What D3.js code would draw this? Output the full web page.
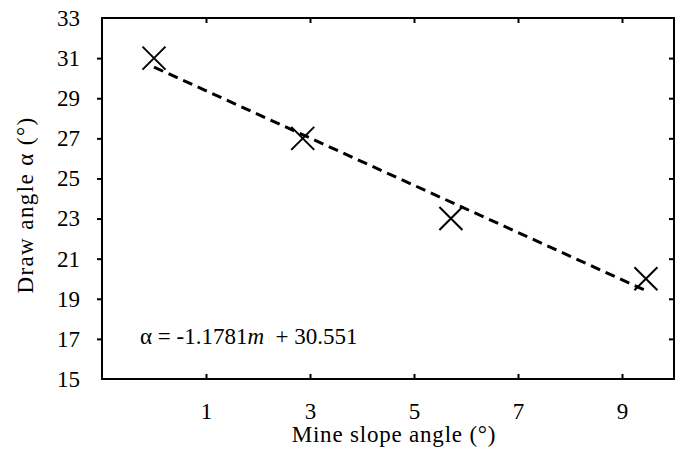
<!DOCTYPE html>
<html>
<head>
<meta charset="utf-8">
<script src="https://cdn.jsdelivr.net/npm/d3@7"></script>
<style>
  body { margin: 0; background: #fff; }
  text { font-family: "Liberation Serif", "Times New Roman", serif; fill: #000; }
</style>
</head>
<body>
<script>
// measured points: mine slope angle vs draw angle
const slopeAngle = [0, 2.86, 5.71, 9.46]
const drawAngle = [31, 27, 23, 20]
const xTicks = [1, 3, 5, 7, 9]
const yTicks = [15, 17, 19, 21, 23, 25, 27, 29, 31, 33]
// linear fit shown on chart
const fitSlope = -1.1781
const fitIntercept = 30.551

const width = 688
const height = 458
const plotLeft = 102, plotRight = 674, plotTop = 18, plotBottom = 379

const xScale = d3.scaleLinear().domain([-1, 10]).range([plotLeft, plotRight])
const yScale = d3.scaleLinear().domain([15, 33]).range([plotBottom, plotTop])

const svg = d3.select('body')
  .append('svg')
  .attr('width', width)
  .attr('height', height)

// left axis, ticks outside
const gy = svg.append('g')
  .attr('transform', 'translate(' + plotLeft + ',0)')
  .call(d3.axisLeft(yScale).tickValues(yTicks).tickSize(5).tickSizeOuter(0).tickPadding(17))
gy.select('.domain').remove()
gy.selectAll('.tick line')
  .attr('stroke-width', 2)
  .attr('opacity', (d) => (d === 15 || d === 33) ? 0 : 1)

// bottom axis, ticks inside
const gx = svg.append('g')
  .attr('transform', 'translate(0,' + plotBottom + ')')
  .call(d3.axisBottom(xScale).tickValues(xTicks).tickSize(-5).tickSizeOuter(0).tickPadding(24))
gx.select('.domain').remove()
gx.selectAll('.tick line').attr('stroke-width', 2)

// mirror ticks on top and right
const gt = svg.append('g')
  .attr('transform', 'translate(0,' + plotTop + ')')
  .call(d3.axisTop(xScale).tickValues(xTicks).tickSize(-5).tickFormat(''))
gt.select('.domain').remove()
gt.selectAll('.tick line').attr('stroke-width', 2)

const gr = svg.append('g')
  .attr('transform', 'translate(' + plotRight + ',0)')
  .call(d3.axisRight(yScale).tickValues(yTicks.slice(1, -1)).tickSize(-5).tickFormat(''))
gr.select('.domain').remove()
gr.selectAll('.tick line').attr('stroke-width', 2)

svg.selectAll('.tick text')
  .attr('font-family', '"Liberation Serif", serif')
  .attr('font-size', '23px')

// frame
svg.append('rect')
  .attr('x', plotLeft)
  .attr('y', plotTop)
  .attr('width', plotRight - plotLeft)
  .attr('height', plotBottom - plotTop)
  .attr('fill', 'none')
  .attr('stroke', '#000')
  .attr('stroke-width', 2)

// trendline over data range
const xMin = d3.min(slopeAngle), xMax = d3.max(slopeAngle)
svg.append('line')
  .attr('x1', xScale(xMin))
  .attr('y1', yScale(fitSlope * xMin + fitIntercept))
  .attr('x2', xScale(xMax))
  .attr('y2', yScale(fitSlope * xMax + fitIntercept))
  .attr('stroke', '#000')
  .attr('stroke-width', 3)
  .attr('stroke-dasharray', '10,6')

// X markers
const pts = slopeAngle.map((d, i) => [d, drawAngle[i]])
const s = 11.5
svg.selectAll('path.marker')
  .data(pts)
  .enter()
  .append('path')
  .attr('class', 'marker')
  .attr('d', (d) => {
    const cx = xScale(d[0]), cy = yScale(d[1])
    return 'M' + (cx - s) + ',' + (cy - s) + 'L' + (cx + s) + ',' + (cy + s) +
      'M' + (cx - s) + ',' + (cy + s) + 'L' + (cx + s) + ',' + (cy - s)
  })
  .attr('stroke', '#000')
  .attr('stroke-width', 2)
  .attr('fill', 'none')

// equation
const eq = svg.append('text')
  .attr('x', 140)
  .attr('y', 344)
  .attr('font-size', '23px')
  .attr('xml:space', 'preserve')
eq.append('tspan').text('α = ' + fitSlope)
eq.append('tspan').attr('font-style', 'italic').text('m')
eq.append('tspan').text('  + ' + fitIntercept)

// axis titles
svg.append('text')
  .attr('x', 394)
  .attr('y', 442)
  .attr('text-anchor', 'middle')
  .attr('font-size', '23px')
  .attr('letter-spacing', '0.8px')
  .text('Mine slope angle  (°)')

svg.append('text')
  .attr('transform', 'translate(33,205) rotate(-90)')
  .attr('text-anchor', 'middle')
  .attr('font-size', '23px')
  .attr('letter-spacing', '1.4px')
  .text('Draw angle  α (°)')
</script>
</body>
</html>
